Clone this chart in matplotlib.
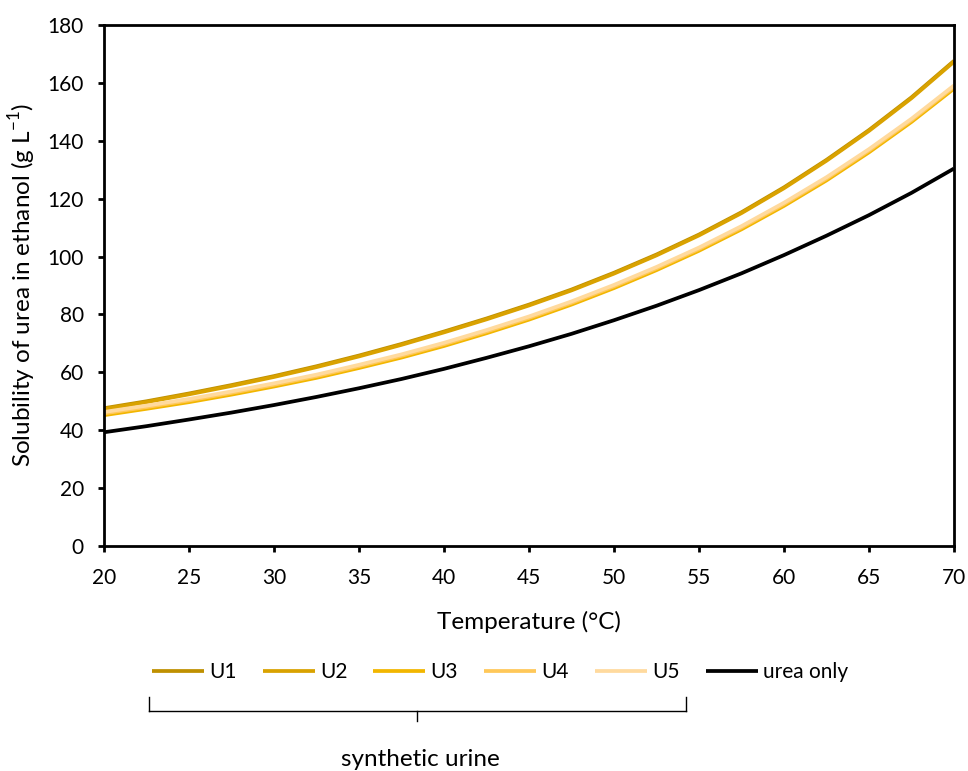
import matplotlib
matplotlib.use("Agg")
import matplotlib.pyplot as plt
from matplotlib.lines import Line2D

plt.rcParams['font.family'] = ['Lato', 'DejaVu Sans']
plt.rcParams['mathtext.fontset'] = 'custom'
plt.rcParams['mathtext.rm'] = 'Lato'
plt.rcParams['axes.unicode_minus'] = False

# Розчинність сечовини в етанолі (г/л), крок 2.5 °C
temperature = [20, 22.5, 25, 27.5, 30, 32.5, 35, 37.5, 40, 42.5, 45,
               47.5, 50, 52.5, 55, 57.5, 60, 62.5, 65, 67.5, 70]
u1 = [47.6, 50.0, 52.7, 55.6, 58.7, 62.1, 65.8, 69.8, 74.1, 78.6, 83.4,
      88.6, 94.4, 100.7, 107.6, 115.3, 123.9, 133.4, 143.7, 155.0, 167.6]
u2 = [47.3, 49.7, 52.4, 55.3, 58.4, 61.8, 65.5, 69.5, 73.8, 78.3, 83.1,
      88.3, 94.1, 100.4, 107.3, 115.0, 123.6, 133.1, 143.4, 154.7, 167.3]
u3 = [45.2, 47.4, 49.7, 52.3, 55.1, 58.1, 61.5, 65.1, 69.1, 73.5, 78.2,
      83.4, 89.1, 95.3, 102.0, 109.4, 117.5, 126.3, 136.0, 146.5, 158.0]
u4 = [45.8, 48.0, 50.3, 52.9, 55.7, 58.7, 62.1, 65.7, 69.7, 74.1, 78.8,
      84.0, 89.7, 95.9, 102.6, 110.0, 118.1, 126.9, 136.6, 147.1, 158.6]
u5 = [46.3, 48.5, 50.8, 53.4, 56.2, 59.2, 62.6, 66.2, 70.2, 74.6, 79.3,
      84.5, 90.2, 96.4, 103.1, 110.5, 118.6, 127.4, 137.1, 147.6, 159.1]
urea_only = [39.3, 41.4, 43.7, 46.1, 48.7, 51.5, 54.5, 57.7, 61.2, 65.0, 69.0,
             73.3, 78.0, 83.0, 88.4, 94.2, 100.5, 107.2, 114.3, 122.0, 130.4]

series = [
    ('U1', u1, '#BF9000'),
    ('U2', u2, '#D9A200'),
    ('U3', u3, '#F2B600'),
    ('U4', u4, '#FFC859'),
    ('U5', u5, '#FFDA9E'),
    ('urea only', urea_only, '#000000'),
]

fig = plt.figure(figsize=(9.68, 7.71), dpi=100)
ax = fig.add_axes([0.1074, 0.2918, 0.8781, 0.6758])

for name, values, color in series:
    ax.plot(temperature, values, color=color, lw=2.7, label=name, solid_capstyle='butt')

ax.set_xlim(20, 70)
ax.set_ylim(0, 180)
ax.set_xticks(range(20, 71, 5))
ax.set_yticks(range(0, 181, 20))
ax.tick_params(direction='out', length=4.5, width=2, labelsize=15)
ax.tick_params(axis='x', pad=11)
ax.tick_params(axis='y', pad=10)
for side in ax.spines.values():
    side.set_linewidth(2)
    side.set_color('black')

ax.set_xlabel('Temperature (°C)', fontsize=17.5, va='center')
ax.xaxis.set_label_coords(0.5, -0.146)
ax.set_ylabel('Solubility of urea in ethanol (g L$^{-1}$)', fontsize=17.5, va='center')
ax.yaxis.set_label_coords(-0.0965, 0.5)

fig.legend(loc='center', bbox_to_anchor=(0.5165, 0.1284), ncol=6, frameon=False,
           fontsize=15, handlelength=2.5, handletextpad=0.25, columnspacing=1.25)

# фігурна дужка під U1-U5
w, h = 968, 771
bx0, bx1, bmid = 149 / w, 686 / w, 417 / w
ytop, ybar, ybot = 1 - 697 / h, 1 - 711 / h, 1 - 721 / h
for xs, ys in [([bx0, bx0], [ytop, ybar]), ([bx0, bx1], [ybar, ybar]),
               ([bx1, bx1], [ybar, ytop]), ([bmid, bmid], [ybar, ybot])]:
    fig.add_artist(Line2D(xs, ys, color='black', lw=1))
fig.text(420 / w, 1 - 760 / h, 'synthetic urine', ha='center', va='center', fontsize=17.5)

fig.savefig('out.png', dpi=100)
